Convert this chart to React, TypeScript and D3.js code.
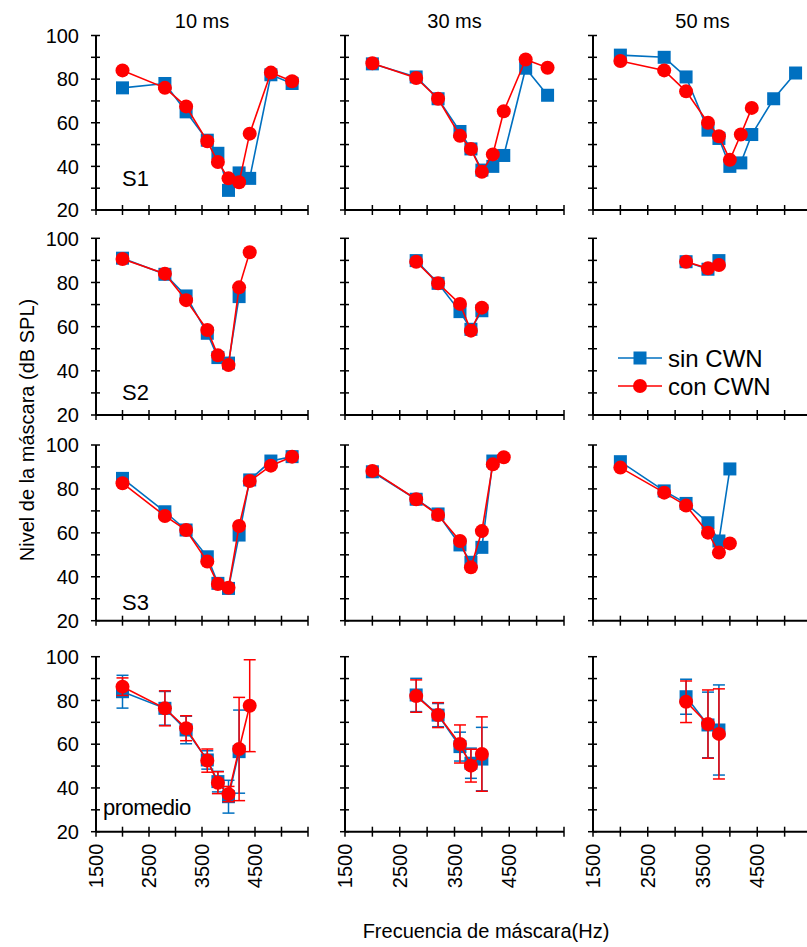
import React from "react";
import * as d3 from "d3";

const FREQS = [2000, 2800, 3200, 3600, 3800, 4000, 4200, 4400, 4800, 5200];
const COL_TITLES = ["10 ms", "30 ms", "50 ms"];
const ROW_LABELS = ["S1", "S2", "S3", "promedio"];
const Y_TICKS = [20, 40, 60, 80, 100];
const X_TICK_LABELS = [1500, 2500, 3500, 4500];
const SERIES_NAMES = ["sin CWN", "con CWN"];

const N = null;
// Row S1
const S1_10_SIN = [76, 78, 65, 52, 46, 29, 37, 34.5, 82, 78];
const S1_10_CON = [84, 76, 67.5, 51.5, 42, 34.5, 32.7, 55, 83, 79];
const S1_30_SIN = [87, 81, 71, 56, 48, 38.3, 40, 45, 85, 72.6];
const S1_30_CON = [87.3, 80.5, 71, 54, 48, 37.5, 45.5, 65.3, 89, 85.2];
const S1_50_SIN = [91, 90, 81, 56.6, 52.8, 40, 41.6, 54.6, 71, 82.8];
const S1_50_CON = [88.3, 84, 74.4, 60, 53.8, 43, 54.6, 66.8, N, N];
// Row S2
const S2_10_SIN = [91, 83.7, 73.9, 57, 46, 43.5, 73.6, N, N, N];
const S2_10_CON = [90.6, 84, 72, 58.5, 47, 42.6, 77.8, 93.7, N, N];
const S2_30_SIN = [N, 89.9, 79.6, 66.8, 58.8, 67.2, N, N, N, N];
const S2_30_CON = [N, 89.4, 79.6, 70.3, 58.2, 68.6, N, N, N, N];
const S2_50_SIN = [N, N, 89.4, 86, 89.9, N, N, N, N, N];
const S2_50_CON = [N, N, 89.4, 86.4, 87.9, N, N, N, N, N];
// Row S3
const S3_10_SIN = [84.8, 69.6, 61.3, 49.1, 37, 34.7, 59, 84.1, 92.7, 94.7];
const S3_10_CON = [82.6, 67.7, 61.3, 46.9, 36.7, 35, 63.1, 83.6, 90.6, 94.7];
const S3_30_SIN = [87.8, 75.3, 68.6, 54.5, 46.6, 53.4, 92.7, N, N, N];
const S3_30_CON = [88.2, 75.3, 68.1, 56.3, 44.3, 60.8, 91.2, 94.4, N, N];
const S3_50_SIN = [92.4, 79.1, 73.4, 64.6, 56.3, 89.1, N, N, N, N];
const S3_50_CON = [89.7, 78.3, 72.4, 60.1, 51, 55.2, N, N, N, N];
// Row promedio (mean) with error
const M_10_SIN = [84, 76.4, 66.5, 52.8, 42.9, 36, 56.6, N, N, N];
const M_10_SIN_ERR = [7.5, 7.7, 6.3, 4.2, 4.7, 7.5, 19, N, N, N];
const M_10_CON = [86.3, 76.4, 67.3, 52.5, 42.4, 37.2, 57.8, 77.6, N, N];
const M_10_CON_ERR = [4, 8, 5.7, 5.3, 5, 3.5, 23.6, 21, N, N];
const M_30_SIN = [N, 82.5, 73.3, 58.9, 51.3, 53.2, N, N, N, N];
const M_30_SIN_ERR = [N, 7.6, 5.3, 6.6, 6.9, 14.5, N, N, N, N];
const M_30_CON = [N, 82, 73.3, 60.1, 50.2, 55.5, N, N, N, N];
const M_30_CON_ERR = [N, 7.4, 5.7, 8.7, 7.5, 17, N, N, N, N];
const M_50_SIN = [N, N, 81.7, 68.8, 66.5, N, N, N, N, N];
const M_50_SIN_ERR = [N, N, 8, 15, 20.6, N, N, N, N, N];
const M_50_CON = [N, N, 79.4, 69.2, 64.7, N, N, N, N, N];
const M_50_CON_ERR = [N, N, 9.5, 15.6, 20.6, N, N, N, N, N];

type Arr = (number | null)[];
const PANELS: { sin: Arr; con: Arr; sinErr?: Arr; conErr?: Arr }[][] = [
  [
    { sin: S1_10_SIN, con: S1_10_CON },
    { sin: S1_30_SIN, con: S1_30_CON },
    { sin: S1_50_SIN, con: S1_50_CON },
  ],
  [
    { sin: S2_10_SIN, con: S2_10_CON },
    { sin: S2_30_SIN, con: S2_30_CON },
    { sin: S2_50_SIN, con: S2_50_CON },
  ],
  [
    { sin: S3_10_SIN, con: S3_10_CON },
    { sin: S3_30_SIN, con: S3_30_CON },
    { sin: S3_50_SIN, con: S3_50_CON },
  ],
  [
    { sin: M_10_SIN, con: M_10_CON, sinErr: M_10_SIN_ERR, conErr: M_10_CON_ERR },
    { sin: M_30_SIN, con: M_30_CON, sinErr: M_30_SIN_ERR, conErr: M_30_CON_ERR },
    { sin: M_50_SIN, con: M_50_CON, sinErr: M_50_SIN_ERR, conErr: M_50_CON_ERR },
  ],
];

const BLUE = "#0070C0";
const RED = "#FF0000";
const FONT = "'Liberation Sans', Arial, sans-serif";

const COL_X: [number, number][] = [
  [96, 308],
  [345, 564],
  [593, 812],
];
const ROW_Y: [number, number][] = [
  [210, 35.5],
  [415, 238.3],
  [620.7, 445],
  [831.7, 656.7],
];

function Panel({ r, c }: { r: number; c: number }) {
  const p = PANELS[r][c];
  const x = d3.scaleLinear().domain([1500, 5500]).range(COL_X[c]);
  const y = d3.scaleLinear().domain([20, 100]).range(ROW_Y[r]);
  const xTicks = d3.range(1500, 5501, 500);
  const yTicks = d3.range(20, 101, 10);
  const pts = (vals: Arr) =>
    FREQS.map((f, i) => ({ f, v: vals[i], i })).filter((d) => d.v !== null) as {
      f: number;
      v: number;
      i: number;
    }[];
  const line = d3
    .line<{ f: number; v: number }>()
    .x((d) => x(d.f))
    .y((d) => y(d.v));
  const sinPts = pts(p.sin);
  const conPts = pts(p.con);
  const errBars = (ps: { f: number; v: number; i: number }[], errs: Arr | undefined, color: string) =>
    errs
      ? ps.map((d) => {
          const e = errs[d.i];
          if (e === null || e === undefined) return null;
          const cx = x(d.f);
          const y1 = y(d.v + e);
          const y2 = y(d.v - e);
          return (
            <g key={"e" + d.i} stroke={color} strokeWidth={1.5}>
              <line x1={cx} x2={cx} y1={y1} y2={y2} />
              <line x1={cx - 6} x2={cx + 6} y1={y1} y2={y1} />
              <line x1={cx - 6} x2={cx + 6} y1={y2} y2={y2} />
            </g>
          );
        })
      : null;
  return (
    <g>
      {/* axes */}
      <line x1={COL_X[c][0]} x2={COL_X[c][0]} y1={ROW_Y[r][0]} y2={ROW_Y[r][1]} stroke="#000" strokeWidth={2} />
      <line x1={COL_X[c][0]} x2={COL_X[c][1]} y1={ROW_Y[r][0]} y2={ROW_Y[r][0]} stroke="#000" strokeWidth={2} />
      {yTicks.map((t) => (
        <line key={"yt" + t} x1={COL_X[c][0] - 5} x2={COL_X[c][0] + 4} y1={y(t)} y2={y(t)} stroke="#000" strokeWidth={1.5} />
      ))}
      {xTicks.map((t) => (
        <line key={"xt" + t} x1={x(t)} x2={x(t)} y1={ROW_Y[r][0] - 5} y2={ROW_Y[r][0] + 5} stroke="#000" strokeWidth={1.5} />
      ))}
      {c === 0 &&
        Y_TICKS.map((t) => (
          <text key={"yl" + t} x={79} y={y(t)} dy="0.36em" textAnchor="end" fontSize={20} fontFamily={FONT}>
            {t}
          </text>
        ))}
      {r === 3 &&
        X_TICK_LABELS.map((t) => (
          <text
            key={"xl" + t}
            transform={`translate(${x(t)},${ROW_Y[r][0] + 12}) rotate(-90)`}
            dy="0.36em"
            textAnchor="end"
            fontSize={20}
            fontFamily={FONT}
          >
            {t}
          </text>
        ))}
      {c === 0 && (
        <text
          x={r === 3 ? 103 : 122}
          y={r === 0 ? 186 : r === 1 ? 400 : r === 2 ? 610 : 815}
          fontSize={22}
          fontFamily={FONT}
          letterSpacing={r === 3 ? -0.5 : 0}
        >
          {ROW_LABELS[r]}
        </text>
      )}
      {/* blue series */}
      {errBars(sinPts, p.sinErr, BLUE)}
      <path d={line(sinPts) || ""} fill="none" stroke={BLUE} strokeWidth={1.6} />
      {sinPts.map((d) => (
        <rect key={"s" + d.i} x={x(d.f) - 6.5} y={y(d.v) - 6.5} width={13} height={13} fill={BLUE} />
      ))}
      {/* red series */}
      {errBars(conPts, p.conErr, RED)}
      <path d={line(conPts) || ""} fill="none" stroke={RED} strokeWidth={1.6} />
      {conPts.map((d) => (
        <circle key={"c" + d.i} cx={x(d.f)} cy={y(d.v)} r={7} fill={RED} />
      ))}
    </g>
  );
}

export default function App() {
  return (
    <svg
      width={807}
      height={947}
      style={{ position: "absolute", left: 0, top: 0, background: "#fff" }}
      fontFamily={FONT}
    >
      <rect width={807} height={947} fill="#fff" />
      {COL_TITLES.map((t, c) => (
        <text key={t} x={(COL_X[c][0] + COL_X[c][1]) / 2} y={28} textAnchor="middle" fontSize={20}>
          {t}
        </text>
      ))}
      {[0, 1, 2, 3].map((r) => [0, 1, 2].map((c) => <Panel key={r + "-" + c} r={r} c={c} />))}
      {/* legend */}
      <g>
        <line x1={618} x2={662} y1={358} y2={358} stroke={BLUE} strokeWidth={1.6} />
        <rect x={640 - 6.5} y={358 - 6.5} width={13} height={13} fill={BLUE} />
        <text x={668} y={358} dy="0.36em" fontSize={24}>
          {SERIES_NAMES[0]}
        </text>
        <line x1={618} x2={662} y1={386} y2={386} stroke={RED} strokeWidth={1.6} />
        <circle cx={640} cy={386} r={7} fill={RED} />
        <text x={668} y={386} dy="0.36em" fontSize={24}>
          {SERIES_NAMES[1]}
        </text>
      </g>
      <text transform="translate(27,430) rotate(-90)" textAnchor="middle" dy="0.36em" fontSize={20}>
        Nivel de la máscara (dB SPL)
      </text>
      <text x={486} y={938} textAnchor="middle" fontSize={20}>
        Frecuencia de máscara(Hz)
      </text>
    </svg>
  );
}
